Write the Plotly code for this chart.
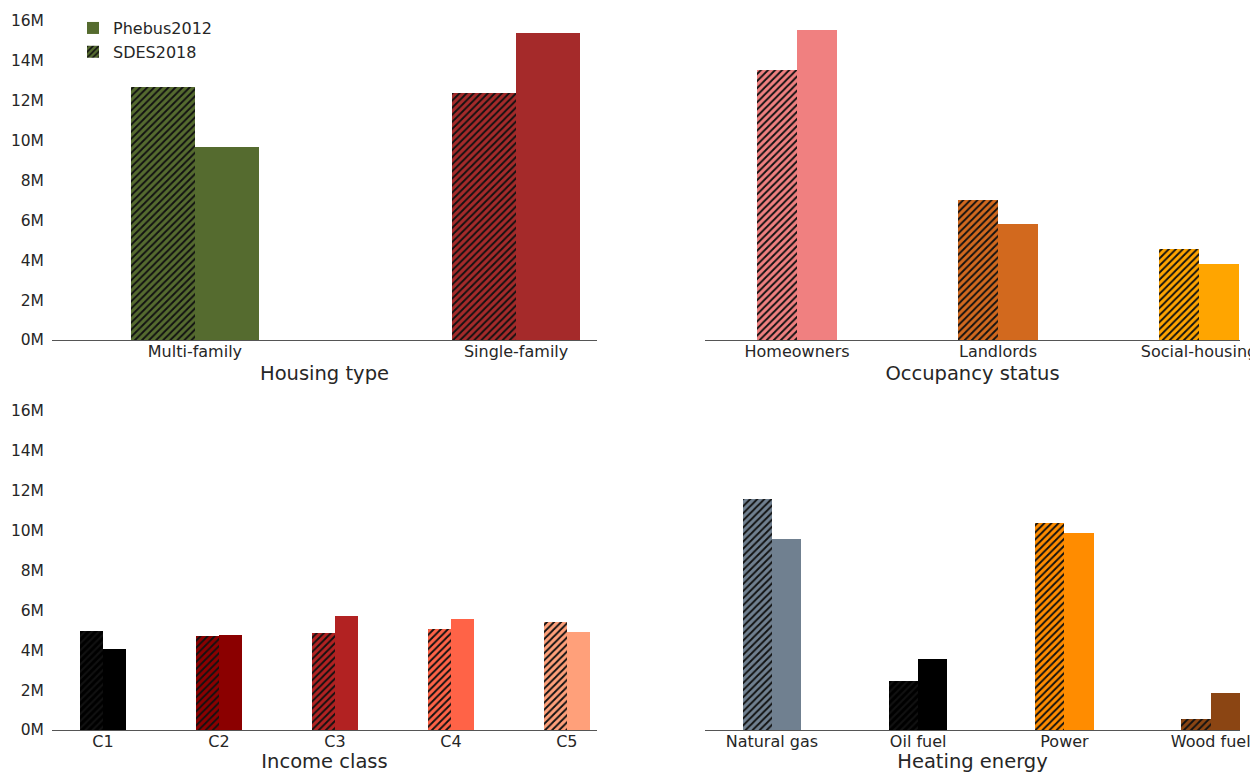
import plotly.graph_objects as go

# ---- data (millions of dwellings) ----
housing_cats = ["Multi-family", "Single-family"]
housing_sdes = [12.7, 12.4]
housing_phebus = [9.7, 15.4]
housing_colors = ["#556B2F", "#A52A2A"]

occupancy_cats = ["Homeowners", "Landlords", "Social-housing"]
occupancy_sdes = [13.55, 7.0, 4.55]
occupancy_phebus = [15.55, 5.8, 3.8]
occupancy_colors = ["#F08080", "#D2691E", "#FFA500"]

income_cats = ["C1", "C2", "C3", "C4", "C5"]
income_sdes = [4.95, 4.7, 4.85, 5.05, 5.4]
income_phebus = [4.05, 4.75, 5.7, 5.55, 4.9]
income_colors = ["#000000", "#8B0000", "#B22222", "#FF6347", "#FFA07A"]

heating_cats = ["Natural gas", "Oil fuel", "Power", "Wood fuel"]
heating_sdes = [11.6, 2.45, 10.4, 0.55]
heating_phebus = [9.6, 3.55, 9.9, 1.85]
heating_colors = ["#708090", "#000000", "#FF8C00", "#8B4513"]

y_ticks = [0, 2, 4, 6, 8, 10, 12, 14, 16]
y_ticktext = [f"{v}M" for v in y_ticks]

panels = [
    ("Housing type", housing_cats, housing_sdes, housing_phebus, housing_colors),
    ("Occupancy status", occupancy_cats, occupancy_sdes, occupancy_phebus, occupancy_colors),
    ("Income class", income_cats, income_sdes, income_phebus, income_colors),
    ("Heating energy", heating_cats, heating_sdes, heating_phebus, heating_colors),
]

# page has an 8px body margin, so the figure is 16px smaller than the window
W, H = 1250, 765
OFF = 8
xdom_left = [(52 - OFF) / W, (597 - OFF) / W]
xdom_right = [(705 - OFF) / W, (1240 - OFF) / W]
ydom_top = [1 - (340 - OFF) / H, 1 - (20 - OFF) / H]
ydom_bot = [1 - (730 - OFF) / H, 1 - (410 - OFF) / H]
xranges = [[-0.445, 1.252], [-0.458, 2.204], [-0.44, 4.26], [-0.457, 3.2]]
domains = [(xdom_left, ydom_top), (xdom_right, ydom_top),
           (xdom_left, ydom_bot), (xdom_right, ydom_bot)]

font_fam = "DejaVu Sans, Liberation Sans, sans-serif"
txt_col = "#262626"
tick_size = 16
title_size = 19.5

fig = go.Figure()
layout = {}
for i, (title, cats, sdes, phebus, colors) in enumerate(panels):
    n = i + 1
    xa = "x" if n == 1 else f"x{n}"
    ya = "y" if n == 1 else f"y{n}"
    for j, cat in enumerate(cats):
        first = (n == 1 and j == 0)
        fig.add_trace(go.Bar(
            x=[j], y=[phebus[j]], offset=0, width=0.2, name="Phebus2012",
            legendgroup="phebus",
            marker=dict(color=colors[j], line=dict(width=0)),
            showlegend=first, legendrank=1, xaxis=xa, yaxis=ya,
        ))
        fig.add_trace(go.Bar(
            x=[j], y=[sdes[j]], offset=-0.2, width=0.2, name="SDES2018",
            legendgroup="sdes",
            marker=dict(color=colors[j], line=dict(width=0),
                        pattern=dict(shape="/", fgcolor="#111111", bgcolor=colors[j],
                                     size=5, solidity=0.38, fillmode="replace")),
            showlegend=first, legendrank=2, xaxis=xa, yaxis=ya,
        ))
    xd, yd = domains[i]
    kx = "xaxis" if n == 1 else f"xaxis{n}"
    ky = "yaxis" if n == 1 else f"yaxis{n}"
    layout[kx] = dict(
        domain=xd, anchor=ya, range=xranges[i], automargin=False,
        tickvals=list(range(len(cats))), ticktext=cats,
        showgrid=False, zeroline=False,
        showline=True, linecolor="#555555", linewidth=1.3, ticks="",
        ticklabelstandoff=-3,
        tickfont=dict(size=tick_size, color=txt_col, family=font_fam),
        title=dict(text=title, standoff=6,
                   font=dict(size=title_size, color=txt_col, family=font_fam)),
        fixedrange=True,
    )
    show_y = n in (1, 3)
    layout[ky] = dict(
        domain=yd, anchor=xa, range=[0, 16.05], automargin=False,
        tickvals=y_ticks, ticktext=y_ticktext, showticklabels=show_y,
        showgrid=False, zeroline=False, showline=False, ticks="",
        ticklabelstandoff=7,
        tickfont=dict(size=tick_size - 0.5, color=txt_col, family=font_fam),
    )

fig.update_layout(**layout)
fig.update_layout(
    width=W, height=H, barmode="overlay",
    margin=dict(l=0, r=0, t=0, b=0, autoexpand=False),
    paper_bgcolor="white", plot_bgcolor="white",
    font=dict(family=font_fam, color=txt_col, size=tick_size),
    legend=dict(x=0.052, y=0.996, xanchor="left", yanchor="top",
                bgcolor="rgba(0,0,0,0)", font=dict(size=16, color=txt_col),
                itemwidth=30, tracegroupgap=0),
    bargap=0,
)
fig.write_html("out.html")
